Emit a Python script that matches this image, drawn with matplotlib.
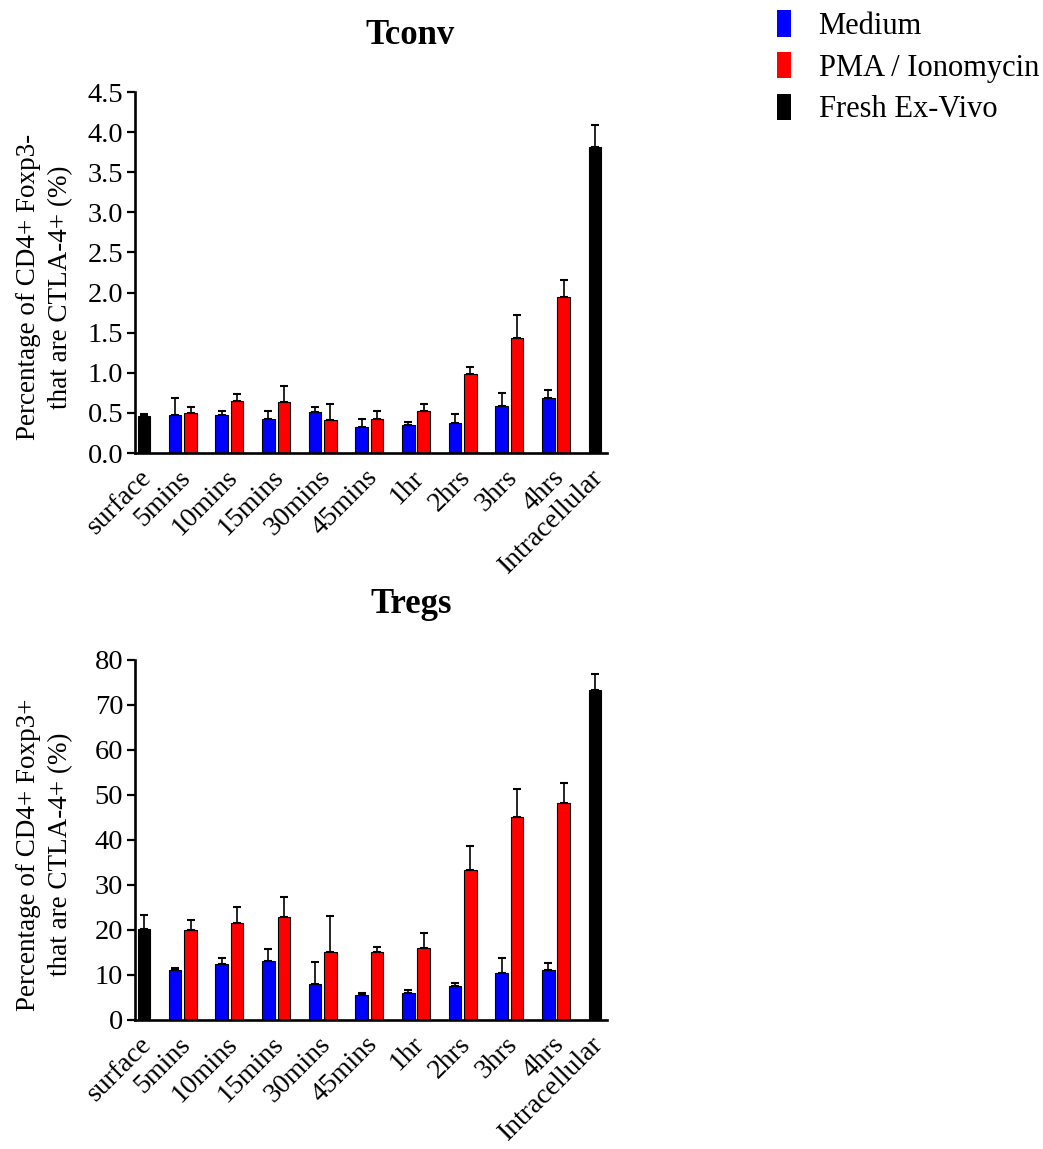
import numpy as np
import matplotlib
matplotlib.use('Agg')
import matplotlib.pyplot as plt
from matplotlib.patches import Patch

plt.rcParams['font.family'] = ['Liberation Serif', 'DejaVu Serif']

timepoints = ['5mins', '10mins', '15mins', '30mins', '45mins', '1hr', '2hrs', '3hrs', '4hrs']

# Tconv (CD4+ Foxp3-)
tconv_surface, tconv_surface_sem = 0.46, 0.03
tconv_intra, tconv_intra_sem = 3.81, 0.28
tconv_medium = [0.47, 0.48, 0.43, 0.51, 0.33, 0.35, 0.38, 0.59, 0.68]
tconv_medium_sem = [0.21, 0.04, 0.10, 0.07, 0.09, 0.04, 0.11, 0.16, 0.11]
tconv_pma = [0.50, 0.65, 0.64, 0.41, 0.43, 0.53, 0.99, 1.43, 1.95]
tconv_pma_sem = [0.08, 0.08, 0.19, 0.20, 0.09, 0.08, 0.08, 0.29, 0.21]

# Tregs (CD4+ Foxp3+)
treg_surface, treg_surface_sem = 20.3, 3.0
treg_intra, treg_intra_sem = 73.3, 3.6
treg_medium = [11.2, 12.4, 13.0, 7.9, 5.5, 5.9, 7.6, 10.5, 11.0]
treg_medium_sem = [0.4, 1.4, 2.7, 5.0, 0.4, 0.8, 0.7, 3.2, 1.7]
treg_pma = [19.9, 21.6, 22.8, 15.2, 15.2, 15.9, 33.3, 45.1, 48.3]
treg_pma_sem = [2.3, 3.4, 4.5, 7.9, 1.0, 3.4, 5.4, 6.2, 4.4]

BLUE = '#0000ff'
RED = '#ff0000'
FS = 19.5


def panel(ax, surf, surf_sem, intra, intra_sem, med, med_sem, pma, pma_sem,
          ymax, ystep, fmt, ylabel):
    n = len(med)
    w = 0.27
    off = 0.166
    gx = 0.835 + np.arange(n)
    x_intra = gx[-1] + 0.835
    ekw = dict(elinewidth=1.2, capthick=1.5, ecolor='black')
    cap = 2.8

    def bar(x, h, e, c):
        e = np.atleast_1d(e)
        ax.bar(x, h, w, color=c, edgecolor='black', linewidth=0.8,
               yerr=[np.zeros_like(e), e], capsize=cap, error_kw=ekw, zorder=2)

    bar(0, surf, surf_sem, 'black')
    bar(gx - off, med, med_sem, BLUE)
    bar(gx + off, pma, pma_sem, RED)
    bar(x_intra, intra, intra_sem, 'black')

    ax.set_xlim(-0.19, x_intra + 0.26)
    ax.set_ylim(0, ymax)
    yt = np.arange(0, ymax + ystep / 2, ystep)
    ax.set_yticks(yt)
    ax.set_yticklabels([fmt.format(v) for v in yt])
    # x ticks have no marks, nudge the label anchors slightly right
    xt = np.array([0] + list(gx) + [x_intra]) + 0.09
    ax.set_xticks(xt)
    ax.set_xticklabels(['surface'] + timepoints + ['Intracellular'],
                       rotation=45, ha='right', va='center', rotation_mode='anchor')
    for s in ['top', 'right']:
        ax.spines[s].set_visible(False)
    for s in ['left', 'bottom']:
        ax.spines[s].set_linewidth(1.9)
    ax.tick_params(axis='y', length=5.5, width=1.6, pad=3, labelsize=20.5)
    ax.tick_params(axis='x', length=0, pad=15, labelsize=20)
    ax.set_ylabel(ylabel, fontsize=FS, linespacing=1.4)
    ax.yaxis.set_label_coords(-0.13, 0.46)


fig = plt.figure(figsize=(10.43, 11.49), dpi=100)
ax1 = fig.add_axes([0.1294, 0.6057, 0.4526, 0.3142])
ax2 = fig.add_axes([0.1294, 0.1123, 0.4526, 0.3133])

panel(ax1, tconv_surface, tconv_surface_sem, tconv_intra, tconv_intra_sem,
      tconv_medium, tconv_medium_sem, tconv_pma, tconv_pma_sem,
      4.5, 0.5, '{:.1f}', 'Percentage of CD4+ Foxp3-\nthat are CTLA-4+ (%)')
panel(ax2, treg_surface, treg_surface_sem, treg_intra, treg_intra_sem,
      treg_medium, treg_medium_sem, treg_pma, treg_pma_sem,
      80, 10, '{:.0f}', 'Percentage of CD4+ Foxp3+\nthat are CTLA-4+ (%)')

fig.text(410 / 1043, 0.9617, 'Tconv', ha='center', va='baseline',
         fontsize=25, fontweight='bold')
fig.text(411 / 1043, 0.4665, 'Tregs', ha='center', va='baseline',
         fontsize=25, fontweight='bold')

handles = [Patch(facecolor=BLUE, edgecolor='none'),
           Patch(facecolor=RED, edgecolor='none'),
           Patch(facecolor='black', edgecolor='none')]
fig.legend(handles, ['Medium', 'PMA / Ionomycin', 'Fresh Ex-Vivo'],
           loc='upper left', bbox_to_anchor=(777 / 1043, 0.991),
           frameon=False, fontsize=22, handlelength=0.46, handleheight=0.95,
           handletextpad=0.9, labelspacing=0.36, borderpad=0, borderaxespad=0)

fig.savefig('out.png', dpi=100)
